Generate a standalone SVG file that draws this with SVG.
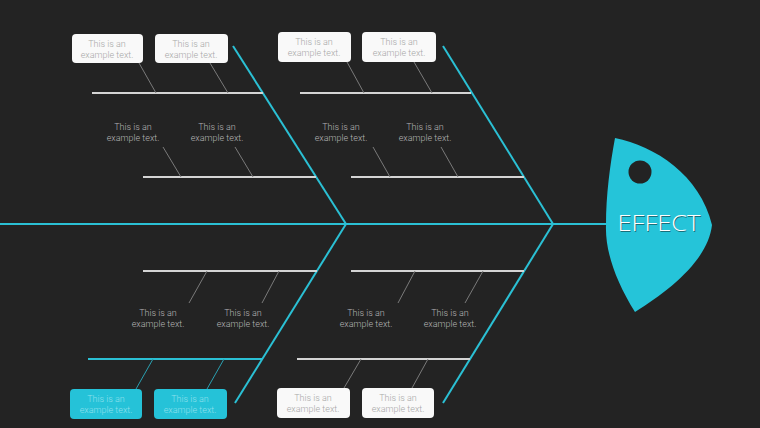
<svg xmlns="http://www.w3.org/2000/svg" width="760" height="428" viewBox="0 0 760 428">
<style>
.bone{stroke:#2bc0d4;stroke-width:2;fill:none}
.rib{stroke:#d4d4d4;stroke-width:2;fill:none}
.ribc{stroke:#2bc0d4;stroke-width:2;fill:none}
.tick{stroke:#7a7a7a;stroke-width:1;fill:none}
.tickc{stroke:#2a9fb0;stroke-width:1;fill:none}
.box{fill:#f9f9f9}
.boxc{fill:#25c2d8}
.t{font-family:Roboto,"Liberation Sans",sans-serif;font-weight:300;font-size:9px;fill:#a8a8a8;text-anchor:middle}
.tc{font-family:Roboto,"Liberation Sans",sans-serif;font-weight:300;font-size:9px;fill:#8fe0ec;text-anchor:middle}
.tb{font-family:Roboto,"Liberation Sans",sans-serif;font-weight:300;font-size:9px;fill:#b4b4b4;text-anchor:middle}
</style>
<rect width="760" height="428" fill="#232323"/>
<g id="connectors">
<line class="bone" x1="0" y1="224" x2="608" y2="224"/>
<line class="bone" x1="233" y1="46" x2="346" y2="224"/>
<line class="bone" x1="443" y1="46" x2="553" y2="224"/>
<line class="bone" x1="346" y1="224" x2="235" y2="403"/>
<line class="bone" x1="553" y1="224" x2="443" y2="403"/>
<line class="rib" x1="92" y1="93" x2="263" y2="93"/>
<line class="rib" x1="143" y1="177" x2="316" y2="177"/>
<line class="rib" x1="300" y1="93" x2="471" y2="93"/>
<line class="rib" x1="351" y1="177" x2="524" y2="177"/>
<line class="rib" x1="143" y1="271" x2="317" y2="271"/>
<line class="ribc" x1="88" y1="359" x2="262" y2="359"/>
<line class="rib" x1="351" y1="271" x2="524" y2="271"/>
<line class="rib" x1="297" y1="359" x2="470" y2="359"/>
<line class="tick" x1="139" y1="63" x2="156" y2="93"/>
<line class="tick" x1="210" y1="63" x2="228" y2="93"/>
<line class="tick" x1="347" y1="62" x2="364" y2="93"/>
<line class="tick" x1="414" y1="62" x2="432" y2="93"/>
<line class="tick" x1="163" y1="147" x2="181" y2="177"/>
<line class="tick" x1="235" y1="147" x2="253" y2="177"/>
<line class="tick" x1="373" y1="147" x2="390" y2="177"/>
<line class="tick" x1="441" y1="147" x2="458" y2="177"/>
<line class="tick" x1="207" y1="271" x2="189" y2="303"/>
<line class="tick" x1="279" y1="271" x2="262" y2="303"/>
<line class="tick" x1="415" y1="271" x2="398" y2="303"/>
<line class="tick" x1="483" y1="271" x2="465" y2="303"/>
<line class="tickc" x1="153" y1="359" x2="136" y2="389"/>
<line class="tickc" x1="224" y1="359" x2="207" y2="389"/>
<line class="tick" x1="361" y1="359" x2="344" y2="388"/>
<line class="tick" x1="428" y1="359" x2="412" y2="388"/>
</g>
<g id="box-top-1"><rect class="box" x="72" y="34" width="71" height="29" rx="4"/><text class="t" x="107" y="47">This is an</text><text class="t" x="107" y="58">example text.</text></g>
<g id="box-top-2"><rect class="box" x="155" y="34" width="73" height="29" rx="4"/><text class="t" x="191" y="47">This is an</text><text class="t" x="191" y="58">example text.</text></g>
<g id="box-top-3"><rect class="box" x="278" y="32" width="73" height="30" rx="4"/><text class="t" x="314" y="45">This is an</text><text class="t" x="314" y="56">example text.</text></g>
<g id="box-top-4"><rect class="box" x="362" y="32" width="74" height="30" rx="4"/><text class="t" x="399" y="45">This is an</text><text class="t" x="399" y="56">example text.</text></g>
<g id="label-upper-1"><text class="tb" x="133" y="130">This is an</text><text class="tb" x="133" y="141">example text.</text></g>
<g id="label-upper-2"><text class="tb" x="217" y="130">This is an</text><text class="tb" x="217" y="141">example text.</text></g>
<g id="label-upper-3"><text class="tb" x="341" y="130">This is an</text><text class="tb" x="341" y="141">example text.</text></g>
<g id="label-upper-4"><text class="tb" x="425" y="130">This is an</text><text class="tb" x="425" y="141">example text.</text></g>
<g id="label-lower-1"><text class="tb" x="158" y="316">This is an</text><text class="tb" x="158" y="327">example text.</text></g>
<g id="label-lower-2"><text class="tb" x="243" y="316">This is an</text><text class="tb" x="243" y="327">example text.</text></g>
<g id="label-lower-3"><text class="tb" x="366" y="316">This is an</text><text class="tb" x="366" y="327">example text.</text></g>
<g id="label-lower-4"><text class="tb" x="450" y="316">This is an</text><text class="tb" x="450" y="327">example text.</text></g>
<g id="box-bottom-1"><rect class="boxc" x="70" y="389" width="72" height="30" rx="4"/><text class="tc" x="106" y="402">This is an</text><text class="tc" x="106" y="413">example text.</text></g>
<g id="box-bottom-2"><rect class="boxc" x="154" y="389" width="73" height="30" rx="4"/><text class="tc" x="190" y="402">This is an</text><text class="tc" x="190" y="413">example text.</text></g>
<g id="box-bottom-3"><rect class="box" x="277" y="388" width="73" height="30" rx="4"/><text class="t" x="313" y="401">This is an</text><text class="t" x="313" y="412">example text.</text></g>
<g id="box-bottom-4"><rect class="box" x="362" y="388" width="72" height="30" rx="4"/><text class="t" x="398" y="401">This is an</text><text class="t" x="398" y="412">example text.</text></g>
<g id="effect">
<path d="M615,138 C655,146 700,175 712,225 C708,260 670,290 635,312 C615,280 605,250 606,225 C606,195 610,165 615,138 Z" fill="#25c4d9"/>
<circle cx="640" cy="172" r="11.5" fill="#232323"/>
<text x="659" y="231" font-family="'Open Sans','Liberation Sans',sans-serif" font-weight="300" font-size="22" fill="#1a6f7a" text-anchor="middle" textLength="83" lengthAdjust="spacingAndGlyphs" transform="translate(0.8,0.8)">EFFECT</text>
<text x="659" y="231" font-family="'Open Sans','Liberation Sans',sans-serif" font-weight="300" font-size="22" fill="#ffffff" text-anchor="middle" textLength="83" lengthAdjust="spacingAndGlyphs">EFFECT</text>
</g>
</svg>
